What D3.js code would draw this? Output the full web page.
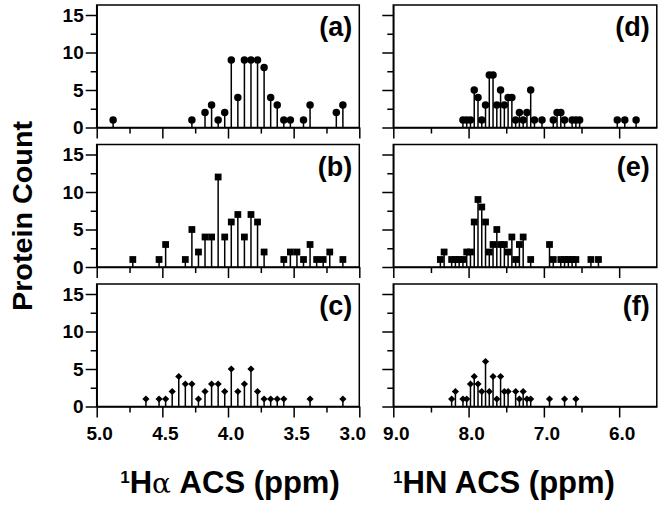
<!DOCTYPE html>
<html>
<head>
<meta charset="utf-8">
<script src="https://cdn.jsdelivr.net/npm/d3@7"></script>
<style>
  html, body { margin: 0; padding: 0; background: #fff; }
  svg { display: block; font-family: "Liberation Sans", Arial, Helvetica, sans-serif; }
  .tick text { font-weight: bold; }
</style>
</head>
<body>
<svg id="chart" width="664" height="506"></svg>
<script>
// ---------- data (ppm bin centre, protein count) ----------
const panelLabels = ["(a)", "(b)", "(c)", "(d)", "(e)", "(f)"];

const aPpm   = [4.875, 4.275, 4.175, 4.125, 4.075, 4.025, 3.975, 3.925, 3.875, 3.825, 3.775, 3.725, 3.675, 3.625, 3.575, 3.525, 3.425, 3.375, 3.175, 3.125];
const aCount = [1, 1, 2, 3, 1, 2, 9, 4, 9, 9, 9, 8, 4, 3, 1, 1, 1, 3, 2, 3];

const bPpm   = [4.725, 4.525, 4.475, 4.325, 4.275, 4.225, 4.175, 4.125, 4.075, 4.025, 3.975, 3.925, 3.875, 3.825, 3.775, 3.725, 3.575, 3.525, 3.475, 3.425, 3.375, 3.325, 3.275, 3.225, 3.125];
const bCount = [1, 1, 3, 1, 5, 2, 4, 4, 12, 4, 6, 7, 4, 7, 6, 2, 1, 2, 2, 1, 3, 1, 1, 2, 1];

const cPpm   = [4.625, 4.525, 4.475, 4.425, 4.375, 4.325, 4.275, 4.225, 4.175, 4.125, 4.075, 4.025, 3.975, 3.925, 3.875, 3.825, 3.775, 3.725, 3.675, 3.625, 3.575, 3.375, 3.125];
const cCount = [1, 1, 1, 2, 4, 3, 3, 1, 2, 3, 3, 2, 5, 2, 3, 5, 2, 1, 1, 1, 1, 1, 1];

const dPpm   = [8.075, 8.025, 7.975, 7.925, 7.875, 7.825, 7.775, 7.725, 7.675, 7.625, 7.575, 7.525, 7.475, 7.425, 7.375, 7.325, 7.275, 7.225, 7.175, 7.125, 7.025, 6.875, 6.825, 6.775, 6.725, 6.625, 6.575, 6.525, 6.025, 5.925, 5.775];
const dCount = [1, 1, 1, 5, 4, 1, 3, 7, 7, 3, 5, 3, 4, 4, 1, 2, 1, 2, 5, 1, 1, 1, 2, 2, 1, 1, 1, 1, 1, 1, 1];

const ePpm   = [8.375, 8.325, 8.225, 8.175, 8.125, 8.075, 8.025, 7.975, 7.925, 7.875, 7.825, 7.775, 7.725, 7.675, 7.625, 7.575, 7.525, 7.475, 7.425, 7.375, 7.325, 7.275, 7.175, 6.925, 6.875, 6.775, 6.725, 6.675, 6.625, 6.575, 6.375, 6.275];
const eCount = [1, 2, 1, 1, 1, 1, 2, 2, 6, 9, 8, 6, 2, 3, 5, 3, 3, 2, 4, 1, 3, 4, 1, 3, 1, 1, 1, 1, 1, 1, 1, 1];

const fPpm   = [8.225, 8.175, 8.075, 8.025, 7.975, 7.925, 7.875, 7.825, 7.775, 7.725, 7.675, 7.625, 7.575, 7.525, 7.475, 7.375, 7.325, 7.275, 7.225, 7.175, 6.925, 6.725, 6.575];
const fCount = [1, 2, 1, 1, 3, 4, 3, 2, 6, 2, 4, 1, 4, 2, 2, 2, 1, 2, 1, 1, 1, 1, 1];

const yTicks      = [0, 5, 10, 15];
const yMinorTicks = [2.5, 7.5, 12.5];
const haTicks      = [5.0, 4.5, 4.0, 3.5, 3.0];
const haMinorTicks = [4.75, 4.25, 3.75, 3.25];
const hnTicks      = [9.0, 8.0, 7.0, 6.0];
const hnMinorTicks = [8.5, 7.5, 6.5];
const xTitles = ["Hα ACS (ppm)", "HN ACS (ppm)"];
const yTitle = "Protein Count";

// ---------- layout ----------
const svg = d3.select("#chart");
const cols = [
  { x0: 96.7, x1: 359.3, domain: [5.0, 3.0], ticks: haTicks, minor: haMinorTicks },
  { x0: 393.3, x1: 656.8, domain: [9.0, 5.5], ticks: hnTicks, minor: hnMinorTicks }
];
const panelTop = [5, 144.5, 284];
const panelH = 122.5;
const yMax = 15 + 10 / 7.5;

const panels = [
  { col: 0, row: 0, ppm: aPpm, cnt: aCount, shape: "circle" },
  { col: 0, row: 1, ppm: bPpm, cnt: bCount, shape: "square" },
  { col: 0, row: 2, ppm: cPpm, cnt: cCount, shape: "diamond" },
  { col: 1, row: 0, ppm: dPpm, cnt: dCount, shape: "circle" },
  { col: 1, row: 1, ppm: ePpm, cnt: eCount, shape: "square" },
  { col: 1, row: 2, ppm: fPpm, cnt: fCount, shape: "diamond" }
];

const symbolPath = {
  circle: d3.symbol(d3.symbolCircle, 44)(),
  square: d3.symbol(d3.symbolSquare, 46)(),
  diamond: d3.symbol(d3.symbolSquare, 26)()
};

panels.forEach((p, i) => {
  const c = cols[p.col];
  const top = panelTop[p.row];
  const x = d3.scaleLinear().domain(c.domain).range([c.x0, c.x1]);
  const y = d3.scaleLinear().domain([0, yMax]).range([top + panelH, top]);
  const g = svg.append("g");

  // frame
  g.append("rect")
    .attr("x", c.x0).attr("y", top)
    .attr("width", c.x1 - c.x0).attr("height", panelH)
    .attr("fill", "none").attr("stroke", "#000").attr("stroke-width", 1.5);

  // x axis
  const isBottom = p.row === 2;
  const xAx = g.append("g").attr("transform", `translate(0,${top + panelH})`)
    .call(d3.axisBottom(x).tickValues(c.ticks).tickSize(11).tickSizeOuter(0)
      .tickFormat(isBottom ? d3.format(".1f") : () => ""));
  xAx.select(".domain").attr("stroke-width", 1.5);
  xAx.selectAll(".tick line").attr("stroke-width", 1.5);
  xAx.selectAll(".tick text").attr("font-size", 19).attr("dy", "1.0em").attr("dx", 2.5);
  if (isBottom && p.col === 0) {
    xAx.selectAll(".tick text").filter(d => d === 3.0).attr("dx", -7);
  }
  const xMin = g.append("g").attr("transform", `translate(0,${top + panelH})`)
    .call(d3.axisBottom(x).tickValues(c.minor).tickSize(6).tickFormat(() => ""));
  xMin.select(".domain").remove();
  xMin.selectAll(".tick line").attr("stroke-width", 1.5);

  // y axis
  const yAx = g.append("g").attr("transform", `translate(${c.x0},0)`)
    .call(d3.axisLeft(y).tickValues(yTicks).tickSize(11).tickSizeOuter(0)
      .tickFormat(p.col === 0 ? d3.format("d") : () => ""));
  yAx.select(".domain").attr("stroke-width", 1.5);
  yAx.selectAll(".tick line").attr("stroke-width", 1.5);
  yAx.selectAll(".tick text").attr("font-size", 19).attr("x", -13);
  const yMin = g.append("g").attr("transform", `translate(${c.x0},0)`)
    .call(d3.axisLeft(y).tickValues(yMinorTicks).tickSize(6).tickFormat(() => ""));
  yMin.select(".domain").remove();
  yMin.selectAll(".tick line").attr("stroke-width", 1.5);

  // stems
  const data = p.ppm.map((v, k) => ({ ppm: v, n: p.cnt[k] }));
  g.selectAll("line.stem").data(data).join("line")
    .attr("class", "stem")
    .attr("x1", d => x(d.ppm)).attr("x2", d => x(d.ppm))
    .attr("y1", y(0)).attr("y2", d => y(d.n))
    .attr("stroke", "#000").attr("stroke-width", 1.5);

  // markers
  g.selectAll("path.mk").data(data).join("path")
    .attr("class", "mk")
    .attr("d", symbolPath[p.shape])
    .attr("transform", d => `translate(${x(d.ppm)},${y(d.n)})` + (p.shape === "diamond" ? " rotate(45)" : ""))
    .attr("fill", "#000");

  // panel label
  g.append("text")
    .attr("x", c.x1 - 7).attr("y", top + 31)
    .attr("text-anchor", "end")
    .attr("font-size", 27).attr("font-weight", "bold")
    .text(panelLabels[i]);
});

// axis titles
const t1 = svg.append("text").attr("x", 230).attr("y", 493)
  .attr("text-anchor", "middle").attr("font-size", 31).attr("font-weight", "bold");
t1.append("tspan").attr("font-size", 17).attr("dy", -10).text("1");
t1.append("tspan").attr("dy", 10).text("H");
t1.append("tspan").attr("font-weight", "normal").attr("font-family", "'DejaVu Serif', serif").attr("font-size", 28).text("α");
t1.append("tspan").text(" ACS (ppm)");

const t2 = svg.append("text").attr("x", 504).attr("y", 493)
  .attr("text-anchor", "middle").attr("font-size", 31).attr("font-weight", "bold");
t2.append("tspan").attr("font-size", 17).attr("dy", -10).text("1");
t2.append("tspan").attr("dy", 10).text(xTitles[1]);

svg.append("text")
  .attr("transform", "translate(32,216) rotate(-90)")
  .attr("text-anchor", "middle")
  .attr("font-size", 28).attr("font-weight", "bold")
  .attr("textLength", 190).attr("lengthAdjust", "spacingAndGlyphs")
  .text(yTitle);
</script>
</body>
</html>
